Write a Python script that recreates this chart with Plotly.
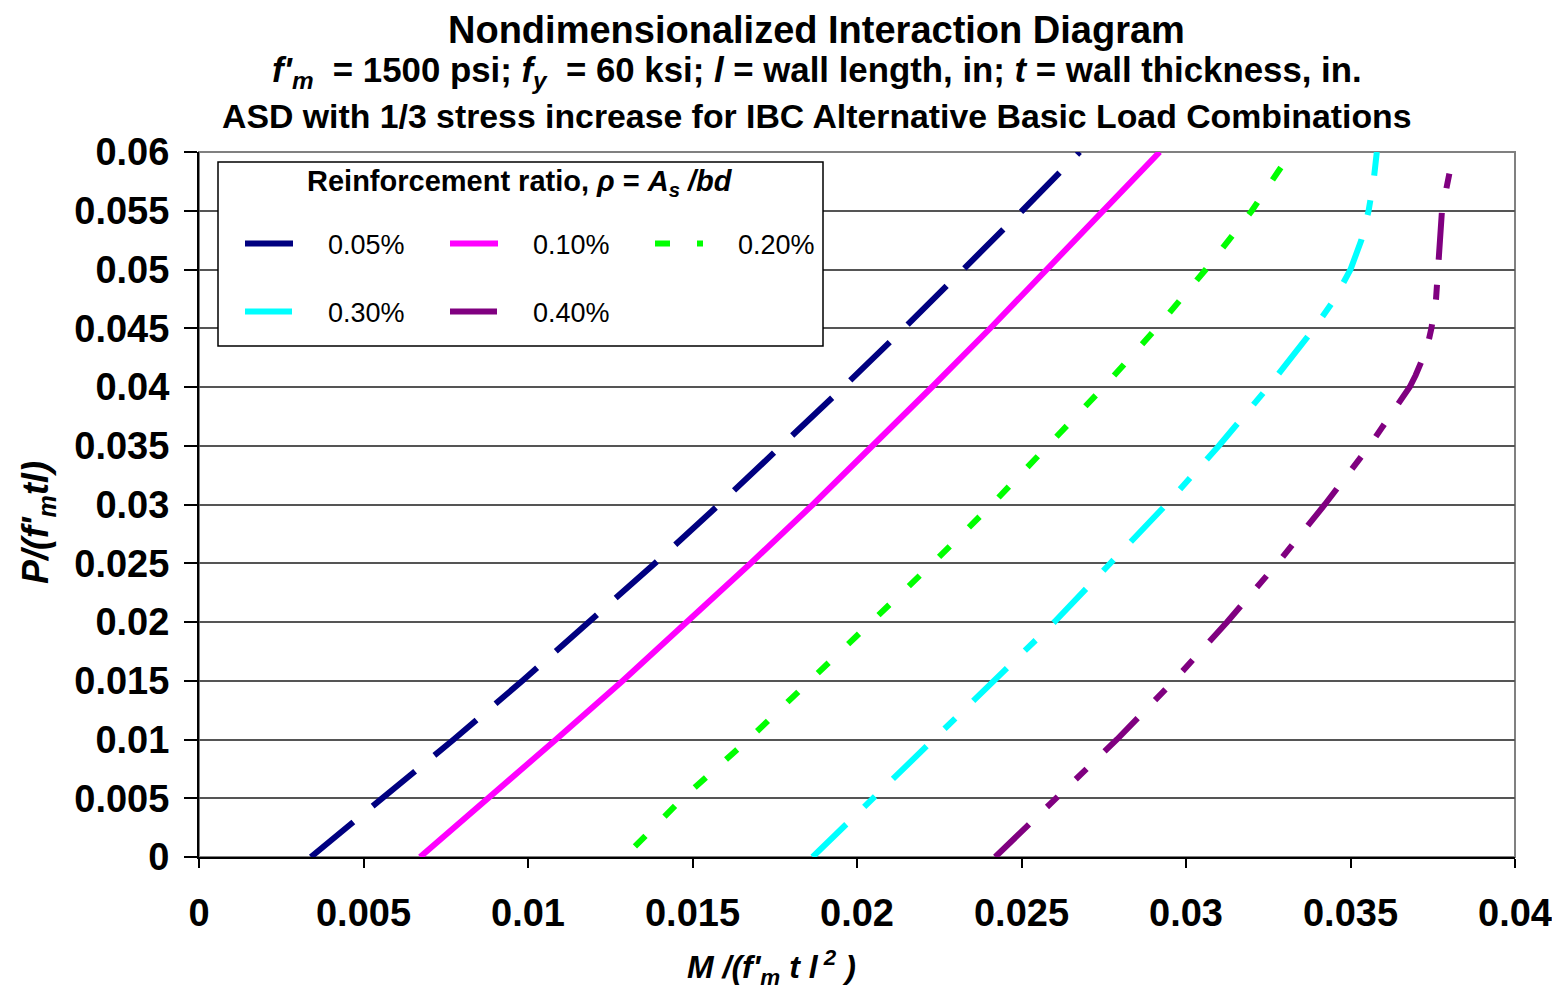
import plotly.graph_objects as go

# ---------------- data ----------------
series_names = ["0.05%", "0.10%", "0.20%", "0.30%", "0.40%"]

p_005 = [0.0, 0.005, 0.01, 0.015, 0.02, 0.025, 0.03, 0.035, 0.04, 0.045, 0.05, 0.055, 0.06]
m_005 = [0.0034, 0.0056, 0.00774, 0.00983, 0.01187, 0.01386, 0.01581, 0.01772, 0.01959,
         0.02143, 0.02324, 0.02502, 0.02677]

p_010 = [0.0, 0.005, 0.01, 0.015, 0.02, 0.025, 0.03, 0.035, 0.04, 0.045, 0.05, 0.055, 0.06]
m_010 = [0.00672, 0.0088, 0.01085, 0.01288, 0.01485, 0.01677, 0.01866, 0.02048, 0.02228,
         0.02405, 0.02578, 0.0275, 0.0292]

p_020 = [0.0009, 0.005, 0.01, 0.015, 0.02, 0.025, 0.03, 0.035, 0.04, 0.045, 0.05, 0.055, 0.06]
m_020 = [0.01325, 0.0147, 0.0167, 0.01858, 0.0204, 0.0223, 0.0241, 0.0258, 0.0275,
         0.0291, 0.0306, 0.0320, 0.0332]

p_030 = [0.0, 0.005, 0.01, 0.015, 0.02, 0.025, 0.03, 0.035, 0.04, 0.045, 0.0475, 0.05,
         0.0525, 0.055, 0.0575, 0.06]
m_030 = [0.01865, 0.0205, 0.02235, 0.0242, 0.0260, 0.0277, 0.0294, 0.0310, 0.0325, 0.0339,
         0.03452, 0.0350, 0.03533, 0.03555, 0.0357, 0.0358]

p_040 = [0.0, 0.005, 0.01, 0.015, 0.02, 0.025, 0.03, 0.035, 0.04, 0.041, 0.042, 0.043,
         0.044, 0.045, 0.0475, 0.05, 0.0525, 0.055, 0.0575, 0.0595]
m_040 = [0.0242, 0.02605, 0.0279, 0.02963, 0.03125, 0.03278, 0.03422, 0.03558, 0.0368,
         0.03698, 0.03715, 0.03728, 0.03738, 0.03746, 0.0376, 0.03768, 0.03772, 0.03778,
         0.03795, 0.0381]

x_tickvals = [0, 0.005, 0.01, 0.015, 0.02, 0.025, 0.03, 0.035, 0.04]
x_ticktext = ["0", "0.005", "0.01", "0.015", "0.02", "0.025", "0.03", "0.035", "0.04"]
y_tickvals = [0, 0.005, 0.01, 0.015, 0.02, 0.025, 0.03, 0.035, 0.04, 0.045, 0.05, 0.055, 0.06]
y_ticktext = ["0", "0.005", "0.01", "0.015", "0.02", "0.025", "0.03", "0.035", "0.04",
              "0.045", "0.05", "0.055", "0.06"]

# ---------------- styling ----------------
FONT = "Liberation Sans, Arial, Helvetica, sans-serif"
OFF = 8                      # default page body margin
W, H = 1552, 984
L, R, T, B = 191, 45, 144, 135
PW, PH = W - L - R, H - T - B


def px_x(px):                # page pixel -> paper coordinate
    return (px - OFF - L) / PW


def px_y(py):
    return (OFF + T + PH - py) / PH


colors = ["#000080", "#FF00FF", "#00FF00", "#00FFFF", "#800080"]
dashes = ["55px,25px", "solid", "15px,27px", "47px,25px,15px,25px",
          "47px,25px,15px,25px,15px,25px"]
legends = ["legend", "legend", "legend", "legend2", "legend2"]
xs = [m_005, m_010, m_020, m_030, m_040]
ys = [p_005, p_010, p_020, p_030, p_040]

fig = go.Figure()
for name, xv, yv, c, d, lg in zip(series_names, xs, ys, colors, dashes, legends):
    fig.add_trace(go.Scatter(
        x=xv, y=yv, mode="lines", name="\u00a0\u00a0\u00a0\u00a0" + name,
        line=dict(color=c, width=6, dash=d),
        legend=lg, hoverinfo="x+y"))

leg_common = dict(
    orientation="h", entrywidth=142, entrywidthmode="pixels", itemwidth=48,
    font=dict(family=FONT, size=27, color="black"),
    bgcolor="rgba(0,0,0,0)", borderwidth=0, xanchor="left", yanchor="middle",
    traceorder="normal")

fig.update_layout(
    width=W, height=H,
    margin=dict(l=L, r=R, t=T, b=B, autoexpand=False),
    paper_bgcolor="white", plot_bgcolor="white",
    font=dict(family=FONT, color="black"),
    showlegend=True,
    legend=dict(x=px_x(240), y=px_y(244), **leg_common),
    legend2=dict(x=px_x(240), y=px_y(312), **leg_common),
)

fig.update_xaxes(
    range=[0, 0.04], tickvals=x_tickvals, ticktext=x_ticktext,
    showgrid=False, zeroline=False, showline=True, linecolor="black", linewidth=2,
    ticks="outside", ticklen=9, tickwidth=1.5, tickcolor="black",
    tickfont=dict(family=FONT, size=38, color="black", weight="bold"),
    ticklabelstandoff=12, automargin=False, fixedrange=True)

fig.update_yaxes(
    range=[0, 0.06], tickvals=y_tickvals, ticktext=y_ticktext,
    showgrid=True, gridcolor="#555555", gridwidth=1.5,
    zeroline=False, showline=True, linecolor="black", linewidth=2,
    ticks="outside", ticklen=13, tickwidth=1.5, tickcolor="black",
    tickfont=dict(family=FONT, size=38, color="black", weight="bold"),
    ticklabelstandoff=7, automargin=False, fixedrange=True)

# plot-area border (grey) and legend box
fig.add_shape(type="rect", xref="paper", yref="paper", x0=0, x1=1, y0=0, y1=1,
              line=dict(color="#808080", width=2), layer="below")
fig.add_shape(type="rect", xref="paper", yref="paper",
              x0=px_x(218), x1=px_x(823), y0=px_y(346), y1=px_y(162),
              line=dict(color="black", width=1.5), fillcolor="white", layer="above")

annots = [
    dict(text="<b>Nondimensionalized Interaction Diagram</b>", x=px_x(816), y=px_y(30), size=38),
    dict(text="<b><i>f'</i><sub><i>m</i></sub>  = 1500 psi; <i>f</i><sub><i>y</i></sub>  = 60 ksi; "
              "<i>l</i> = wall length, in; <i>t</i> = wall thickness, in.</b>",
         x=px_x(817), y=px_y(72), size=34.8),
    dict(text="<b>ASD with 1/3 stress increase for IBC Alternative Basic Load Combinations</b>",
         x=px_x(816), y=px_y(116), size=33.8),
    dict(text="<b>Reinforcement ratio, <i>ρ</i> = <i>A</i><sub><i>s</i></sub><i> /bd</i></b>",
         x=px_x(520), y=px_y(183), size=29),
    dict(text="<b><i>M /(f'<sub>m</sub> t l<sup> 2</sup> )</i></b>", x=px_x(771), y=px_y(967), size=32),
]
for a in annots:
    fig.add_annotation(text=a["text"], x=a["x"], y=a["y"], xref="paper", yref="paper",
                       xanchor="center", yanchor="middle", showarrow=False, borderpad=0,
                       font=dict(family=FONT, size=a["size"], color="black"))

fig.add_annotation(text="<b><i>P/(f'<sub>m</sub>tl)</i></b>", x=px_x(38), y=px_y(523),
                   xref="paper", yref="paper", xanchor="center", yanchor="middle",
                   textangle=-90, showarrow=False,
                   font=dict(family=FONT, size=36, color="black"))

fig.write_html("out.html")
